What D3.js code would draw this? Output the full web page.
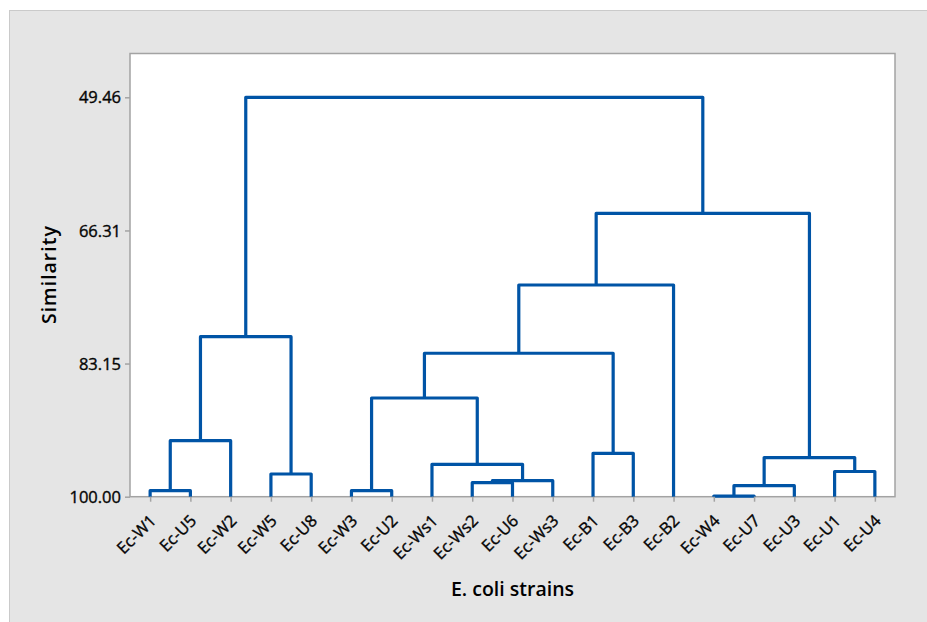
<!DOCTYPE html>
<html>
<head>
<meta charset="utf-8">
<script src="https://cdn.jsdelivr.net/npm/d3@7"></script>
<style>
  body { margin: 0; background: #ffffff; }
  text { font-family: "Open Sans", "Noto Sans", sans-serif; fill: #000; }
</style>
</head>
<body>
<div class="chart"></div>
<script>
// dendrogram of E. coli strains (similarity, single axis)

// leaf order along the x axis
var strains = ["Ec-W1", "Ec-U5", "Ec-W2", "Ec-W5", "Ec-U8", "Ec-W3", "Ec-U2",
               "Ec-Ws1", "Ec-Ws2", "Ec-U6", "Ec-Ws3", "Ec-B1", "Ec-B3", "Ec-B2",
               "Ec-W4", "Ec-U7", "Ec-U3", "Ec-U1", "Ec-U4"];

// merge steps: ids < 19 are leaves, id 19 + i is the cluster made in step i
var mergeLeft  = [14, 0, 5, 19, 8, 23, 3, 17, 7, 22, 11, 20, 21, 31, 30, 32, 34, 33];
var mergeRight = [15, 1, 6, 16, 9, 10, 4, 18, 24, 26, 12, 2, 27, 29, 25, 13, 28, 35];
var mergeSimilarity = [99.92, 99.24, 99.24, 98.61, 98.23, 97.97, 97.13, 96.81, 95.90,
                       95.05, 94.51, 92.91, 87.51, 81.85, 79.75, 73.21, 64.14, 49.46];

var yTicks = [49.46, 66.31, 83.15, 100.00];

window.onload = function()
{
  var width = 927, height = 622;
  var plot = {left: 130, top: 53.5, right: 895, bottom: 496.7};
  var blue = "#0054a6";
  var gray = "#a3a3a3";

  var svg = d3.select(".chart")
              .append("svg")
              .attr("width", width)
              .attr("height", height);

  // grey outer panel
  svg.append("rect")
     .attr("x", 9.5).attr("y", 10.5)
     .attr("width", width).attr("height", height)
     .attr("fill", "#e5e5e5")
     .attr("stroke", "#cacaca");

  // white data region
  svg.append("rect")
     .attr("x", plot.left).attr("y", plot.top)
     .attr("width", plot.right - plot.left)
     .attr("height", plot.bottom - plot.top)
     .attr("fill", "#ffffff")
     .attr("stroke", gray)
     .attr("stroke-width", 1.5);

  var x = d3.scalePoint()
            .domain(strains)
            .range([plot.left, plot.right])
            .padding(0.5);

  var y = d3.scaleLinear()
            .domain([49.46, 100])
            .range([97.3, plot.bottom]);

  // node positions: leaves sit at 100, clusters at their merge level
  var nodes = strains.map(function(s) { return {x: x(s), sim: 100}; });
  var links = [];
  mergeSimilarity.forEach(function(sim, i) {
    var a = nodes[mergeLeft[i]], b = nodes[mergeRight[i]];
    nodes.push({x: (a.x + b.x) / 2, sim: sim});
    links.push([a, b, sim]);
  });

  // one bracket per merge
  svg.append("g")
     .selectAll("path")
     .data(links)
     .enter()
     .append("path")
     .attr("d", function(d) {
        var p = d3.path();
        p.moveTo(d[0].x, y(d[0].sim));
        p.lineTo(d[0].x, y(d[2]));
        p.lineTo(d[1].x, y(d[2]));
        p.lineTo(d[1].x, y(d[1].sim));
        return p.toString();
     })
     .attr("fill", "none")
     .attr("stroke", blue)
     .attr("stroke-width", 3.2)
     .attr("stroke-linejoin", "round");

  // y axis
  var yAxis = svg.append("g")
                 .attr("transform", "translate(" + plot.left + ",0)")
                 .call(d3.axisLeft(y).tickValues(yTicks).tickFormat(d3.format(".2f"))
                         .tickSize(5).tickPadding(4));
  yAxis.select(".domain").remove();
  yAxis.selectAll("line").attr("stroke", gray).attr("stroke-width", 1.5);
  yAxis.selectAll("text")
       .style("font-family", "'Open Sans', sans-serif")
       .style("font-size", "16.5px")
       .attr("dy", "0.34em")
       .attr("fill", "#111")
       .attr("stroke", "#111")
       .attr("stroke-width", 0.4);

  // x axis with rotated strain names
  var xAxis = svg.append("g")
                 .attr("transform", "translate(0," + plot.bottom + ")")
                 .call(d3.axisBottom(x).tickSize(5).tickFormat(""));
  xAxis.select(".domain").remove();
  xAxis.selectAll("line").attr("stroke", gray).attr("stroke-width", 1.5);

  svg.append("g")
     .selectAll("text")
     .data(strains)
     .enter()
     .append("text")
     .attr("transform", function(d) {
        return "translate(" + (x(d) + 7) + "," + (plot.bottom + 25) + ") rotate(-45)";
     })
     .attr("text-anchor", "end")
     .attr("fill", "#111")
     .attr("stroke", "#111")
     .attr("stroke-width", 0.4)
     .style("font-size", "16.5px")
     .text(function(d) { return d; });

  // axis titles
  svg.append("text")
     .attr("x", (plot.left + plot.right) / 2)
     .attr("y", 596)
     .attr("text-anchor", "middle")
     .style("font-size", "19.5px")
     .style("font-weight", 600)
     .text("E. coli strains");

  svg.append("text")
     .attr("transform", "translate(56," + (plot.top + plot.bottom) / 2 + ") rotate(-90)")
     .attr("text-anchor", "middle")
     .attr("textLength", 98)
     .attr("lengthAdjust", "spacing")
     .style("font-size", "19.5px")
     .style("font-weight", 600)
     .text("Similarity");
}
</script>
</body>
</html>
